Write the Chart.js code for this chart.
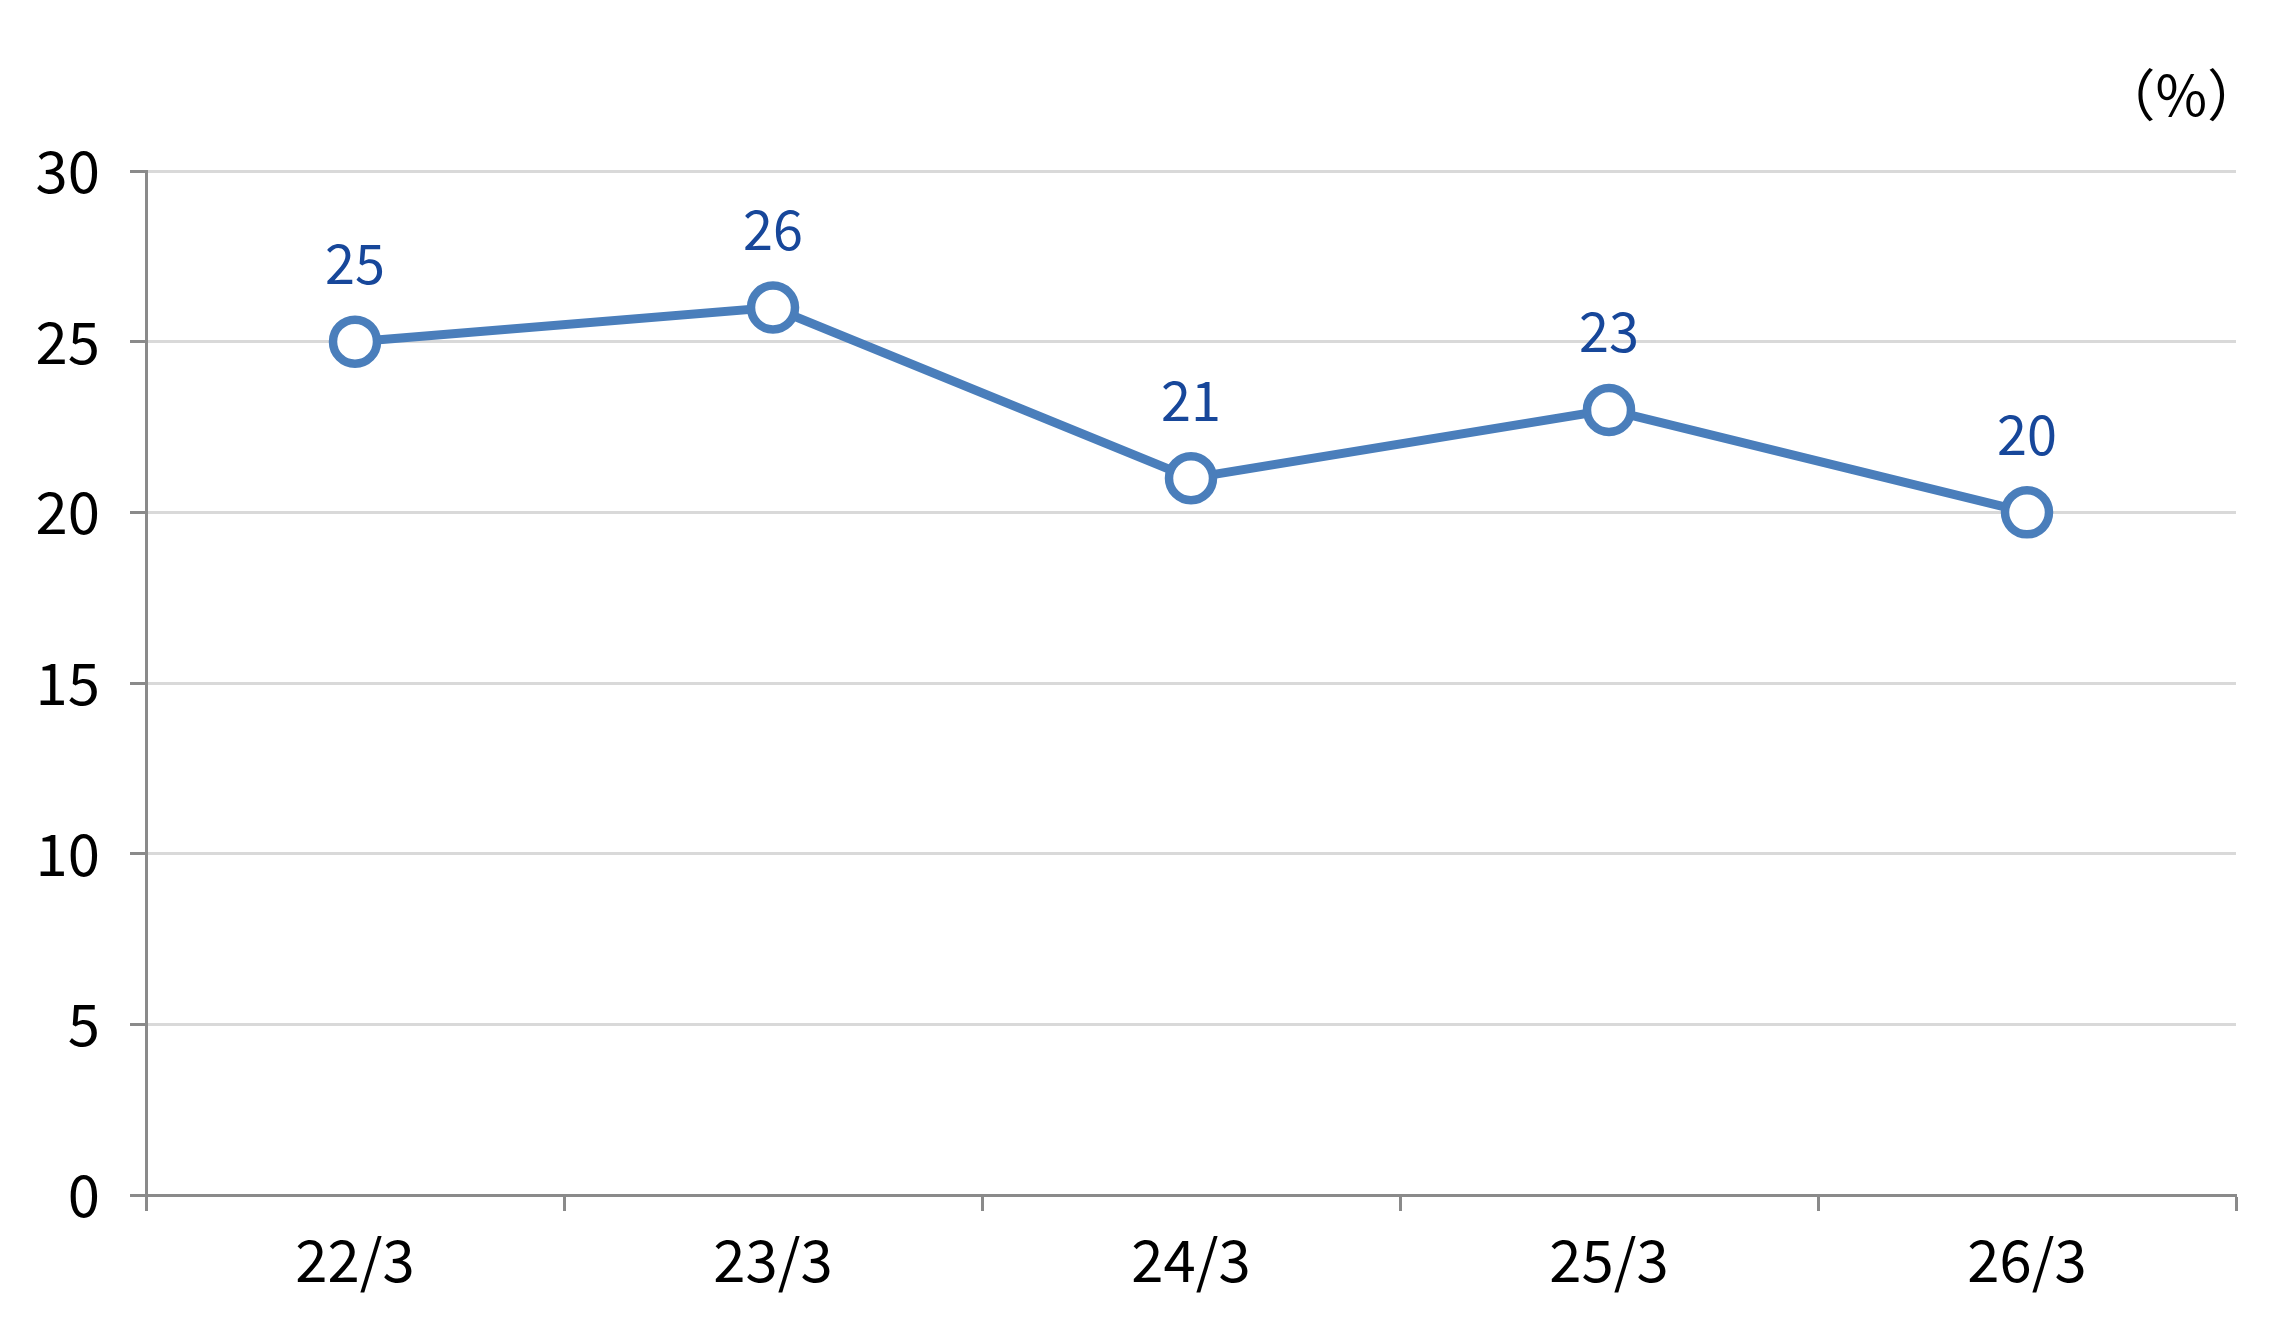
<!DOCTYPE html>
<html>
<head>
<meta charset="utf-8">
<script src="https://cdn.jsdelivr.net/npm/chart.js@4.4.1/dist/chart.umd.min.js"></script>
<style>
  html, body { margin: 0; padding: 0; background: #fff; }
  #wrap { width: 2287px; height: 1318px; }
</style>
</head>
<body>
<div id="wrap"><canvas id="ratioChart"></canvas></div>
<script>
// Data
const categories = ['22/3', '23/3', '24/3', '25/3', '26/3'];
const ratioValues = [25, 26, 21, 23, 20];
const yTicks = [0, 5, 10, 15, 20, 25, 30];
const unitLabel = '（%）';

const FONT = '"Noto Sans CJK JP", "Noto Sans", sans-serif';
const LINE_BLUE = '#4a7ebb';
const LABEL_BLUE = '#17479a';
const AXIS_GRAY = '#8a8a8a';

// value labels above points + unit label
const valueLabels = {
    id: 'valueLabels',
    afterDatasetsDraw(chart) {
        const ctx = chart.ctx;
        const meta = chart.getDatasetMeta(0);
        ctx.save();
        ctx.fillStyle = LABEL_BLUE;
        ctx.font = `54px ${FONT}`;
        ctx.textAlign = 'center';
        ctx.textBaseline = 'middle';
        meta.data.forEach((pt, i) => {
            ctx.fillText(String(ratioValues[i]), pt.x, pt.y - 78);
        });
        // unit
        ctx.fillStyle = '#000';
        ctx.font = `56px ${FONT}`;
        ctx.textAlign = 'right';
        ctx.fillText(unitLabel, chart.chartArea.right + 27, 95);
        ctx.restore();
    }
};

const ctx = document.getElementById('ratioChart').getContext('2d');
new Chart(ctx, {
    type: 'line',
    data: {
        labels: categories,
        datasets: [{
            data: ratioValues,
            borderColor: LINE_BLUE,
            borderWidth: 9,
            pointRadius: 22,
            pointHoverRadius: 22,
            pointBorderWidth: 8.5,
            pointBorderColor: LINE_BLUE,
            pointBackgroundColor: '#fff',
            tension: 0,
            clip: false
        }]
    },
    options: {
        responsive: true,
        maintainAspectRatio: false,
        animation: false,
        layout: { padding: { top: 171, right: 51, left: 0, bottom: 0 } },
        plugins: {
            legend: { display: false },
            tooltip: { enabled: false }
        },
        scales: {
            x: {
                offset: true,
                grid: {
                    offset: true,
                    drawOnChartArea: false,
                    drawTicks: true,
                    tickLength: 16,
                    tickColor: AXIS_GRAY,
                    tickWidth: 3
                },
                border: { color: AXIS_GRAY, width: 3 },
                ticks: {
                    color: '#000',
                    font: { family: FONT, size: 58 },
                    padding: 14,
                    maxRotation: 0
                },
                afterFit(scale) { scale.height = 123; }
            },
            y: {
                min: 0,
                max: 30,
                afterBuildTicks(scale) {
                    scale.ticks = yTicks.map(v => ({ value: v }));
                },
                grid: {
                    color: '#d9d9d9',
                    lineWidth: 3,
                    drawTicks: true,
                    tickLength: 16,
                    tickColor: AXIS_GRAY,
                    tickWidth: 3
                },
                border: { color: AXIS_GRAY, width: 3 },
                ticks: {
                    color: '#000',
                    font: { family: FONT, size: 58 },
                    padding: 30
                },
                afterFit(scale) { scale.width = 146; }
            }
        }
    },
    plugins: [valueLabels]
});
</script>
</body>
</html>
